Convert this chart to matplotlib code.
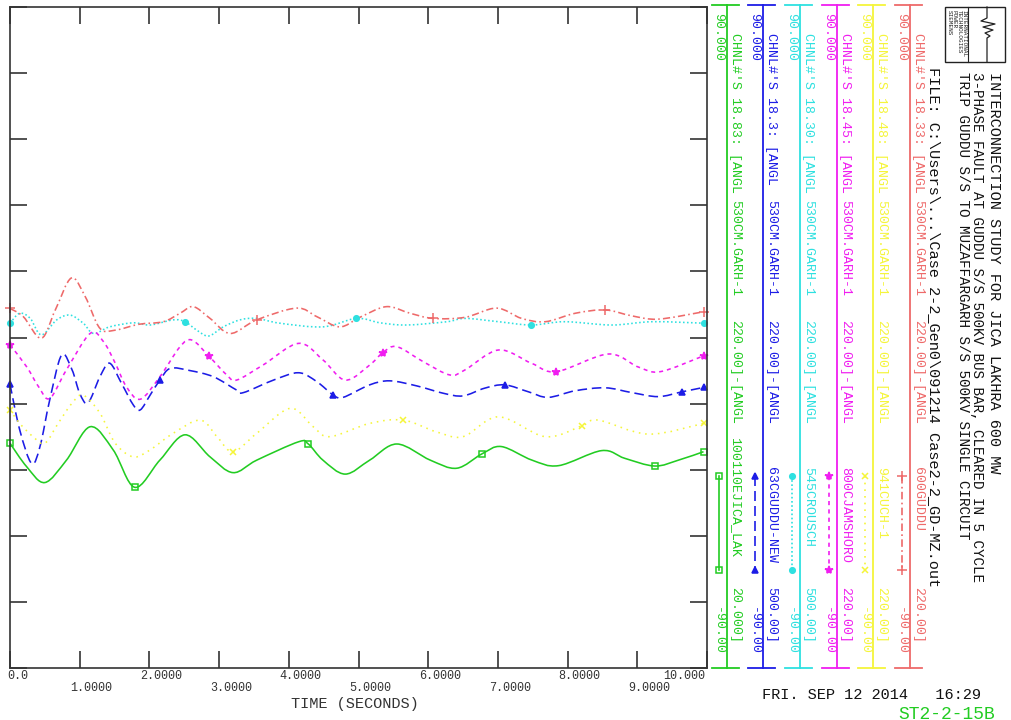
import numpy as np
import matplotlib
matplotlib.use("Agg")
import matplotlib.pyplot as plt
from matplotlib.path import Path
from matplotlib.patches import PathPatch, Rectangle

##########################################
# Channel data   #
# (time in seconds, angle in degrees)    #
##########################################

green_t = [0.00, 0.24, 0.50, 0.81, 1.15, 1.48, 1.79, 2.15, 2.51, 2.87, 3.20, 3.54, 4.14, 4.28, 4.49,
           4.81, 5.16, 5.55, 6.03, 6.41, 6.77, 7.05, 7.49, 7.87, 8.49, 8.82, 9.25, 9.59, 9.95]
green_v = [-28.8, -35.2, -39.5, -33.4, -24.3, -30.6, -40.8, -33.4, -26.5, -32.5, -36.8, -33.4, -28.4, -29.0, -33.4,
           -37.2, -33.4, -29.0, -33.4, -35.6, -31.7, -29.7, -33.4, -34.9, -30.8, -32.9, -35.0, -33.4, -31.1]

blue_t = [0.00, 0.14, 0.31, 0.43, 0.57, 0.74, 0.89, 1.00, 1.12, 1.29, 1.43, 1.60, 1.77, 1.87, 2.01, 2.15,
          2.30, 2.58, 2.92, 3.25, 3.35, 3.78, 4.14, 4.40, 4.64, 4.78, 5.16, 5.45, 5.84, 6.22, 6.50, 6.81,
          7.10, 7.44, 7.72, 8.11, 8.54, 8.92, 9.30, 9.64, 9.95]
blue_v = [-12.7, -25.2, -34.3, -29.7, -17.0, -4.8, -8.8, -15.2, -17.8, -10.7, -7.0, -12.5, -18.4, -19.7, -15.7, -11.6,
          -8.4, -9.0, -10.7, -14.3, -15.0, -11.6, -9.6, -12.0, -15.7, -16.3, -12.9, -11.8, -13.2, -15.2, -15.9, -13.8,
          -12.9, -14.8, -16.3, -14.5, -13.7, -15.0, -16.1, -14.8, -13.6]

cyan_t = [0.00, 0.14, 0.29, 0.45, 0.67, 0.86, 1.05, 1.20, 1.43, 1.77, 2.01, 2.34, 2.51, 2.68, 2.85, 3.06,
          3.30, 3.54, 3.87, 4.49, 4.97, 5.31, 5.69, 6.27, 6.53, 7.01, 7.48, 7.96, 8.63, 9.21, 9.95]
cyan_v = [3.9, 6.6, 5.2, 0.7, 4.8, 6.1, 3.9, 1.1, 2.9, 4.0, 3.4, 4.8, 4.3, 2.0, 0.4, 2.9,
          4.8, 5.2, 3.9, 2.9, 5.2, 4.0, 3.4, 4.3, 5.2, 4.3, 3.4, 4.3, 3.4, 4.3, 3.9]

magenta_t = [0.00, 0.24, 0.41, 0.57, 0.81, 1.15, 1.34, 1.51, 1.67, 1.87, 2.15, 2.44, 2.61, 2.85, 3.11, 3.25,
             3.63, 4.14, 4.49, 4.81, 5.16, 5.35, 5.55, 5.93, 6.31, 6.53, 7.01, 7.48, 7.84, 8.58, 9.01, 9.33, 9.95]
magenta_v = [-2.0, -8.0, -13.4, -16.6, -8.8, 1.1, -1.1, -7.0, -13.4, -16.8, -10.7, -2.5, -0.7, -5.0, -10.2, -11.6,
             -7.5, -1.6, -6.1, -11.6, -7.5, -4.1, -2.5, -6.6, -10.2, -8.8, -3.4, -7.0, -9.3, -4.5, -8.0, -9.3, -5.0]

yellow_t = [0.00, 0.14, 0.33, 0.50, 0.69, 0.89, 1.05, 1.29, 1.51, 1.77, 2.01, 2.34, 2.73, 2.97, 3.20,
            3.54, 4.02, 4.35, 4.59, 5.16, 5.64, 6.12, 6.50, 7.01, 7.68, 8.20, 8.44, 9.16, 9.95]
yellow_v = [-19.7, -23.4, -27.0, -28.8, -23.4, -17.9, -15.7, -20.6, -28.8, -32.5, -30.6, -26.1, -22.5, -27.0, -31.1,
            -26.1, -19.3, -24.3, -27.0, -23.4, -22.5, -25.7, -27.0, -21.6, -27.0, -24.1, -22.5, -26.3, -23.4]

red_t = [0.00, 0.19, 0.45, 0.65, 0.88, 1.08, 1.29, 1.51, 1.85, 2.20, 2.44, 2.63, 2.87, 3.16, 3.54,
         4.11, 4.40, 4.73, 5.02, 5.40, 5.74, 6.07, 6.53, 6.98, 7.34, 7.68, 8.11, 8.54, 8.92, 9.30, 9.95]
red_v = [7.9, 5.7, -0.2, 7.5, 16.2, 11.1, 2.5, 2.0, 3.6, 4.3, 6.6, 8.4, 5.2, 1.1, 4.8,
         8.0, 5.7, 2.9, 5.5, 8.4, 6.6, 5.2, 5.5, 8.0, 5.2, 4.3, 6.6, 7.5, 5.9, 5.0, 7.0]

# times where the plot symbols sit on each curve
green_marks = [0.0, 1.79, 4.28, 6.77, 9.25, 9.95]
blue_marks = [0.0, 2.15, 4.64, 7.10, 9.64, 9.95]
cyan_marks = [0.0, 2.51, 4.97, 7.48, 9.95]
magenta_marks = [0.0, 2.85, 5.35, 7.84, 9.95]
yellow_marks = [0.0, 3.20, 5.64, 8.20, 9.95]
red_marks = [0.0, 3.54, 6.07, 8.54, 9.95]

# legend columns, left (green) to right (red)
chan_nums = ["18.83", "18.3", "18.30", "18.45", "18.48", "18.33"]
bus_names = ["100110EJICA_LAK", "63CGUDDU-NEW", "545CROUSCH", "800CJAMSHORO", "941CUCH-1", "600GUDDU"]
bus_kv = ["20.000]", "500.00]", "500.00]", "220.00]", "220.00]", "220.00]"]

x_ticks = [0, 1, 2, 3, 4, 5, 6, 7, 8, 9, 10]
x_labels = ["0.0", "1.0000", "2.0000", "3.0000", "4.0000", "5.0000",
            "6.0000", "7.0000", "8.0000", "9.0000", "10.000"]

title_lines = ["INTERCONNECTION STUDY FOR JICA LAKHRA 600 MW",
               "3-PHASE FAULT AT GUDDU S/S 500KV BUS BAR, CLEARED IN 5 CYCLE",
               "TRIP GUDDU S/S TO MUZAFFARGARH S/S 500KV SINGLE CIRCUIT",
               r"FILE: C:\Users\...\Case 2-2_Gen0\091214 Case2-2_GD-MZ.out"]

############
# Styling  #
############

plt.rcParams['font.family'] = ['Liberation Mono', 'DejaVu Sans Mono']

GREEN = '#22cc22'
BLUE = '#1c1ce6'
CYAN = '#2ee0e0'
MAGENTA = '#f01ef0'
YELLOW = '#f5f53a'
RED = '#ee6a6a'
AXC = '#333333'

# (color, linestyle, marker, marker size, filled)
styles = [
    (GREEN, '-', 's', 5, False),
    (BLUE, (0, (6, 3)), '^', 5, True),
    (CYAN, (0, (1, 1.5)), 'o', 4, True),
    (MAGENTA, (0, (2.5, 2.5)), '*', 6, True),
    (YELLOW, (0, (1, 3)), 'x', 5, True),
    (RED, (0, (4.5, 2, 1, 2)), '+', 7, True),
]


def smooth_path(t, v):
    # Catmull-Rom through the read points, drawn as cubic Beziers
    n = len(t)
    verts = [(t[0], v[0])]
    codes = [Path.MOVETO]
    for i in range(n - 1):
        t0, v0 = (t[i - 1], v[i - 1]) if i > 0 else (t[i], v[i])
        t3, v3 = (t[i + 2], v[i + 2]) if i + 2 < n else (t[i + 1], v[i + 1])
        c1 = (t[i] + (t[i + 1] - t0) / 6.0, v[i] + (v[i + 1] - v0) / 6.0)
        c2 = (t[i + 1] - (t3 - t[i]) / 6.0, v[i + 1] - (v3 - v[i]) / 6.0)
        verts += [c1, c2, (t[i + 1], v[i + 1])]
        codes += [Path.CURVE4] * 3
    return Path(verts, codes)


W, H = 1012, 720
fig = plt.figure(figsize=(W / 100, H / 100), dpi=100)
fig.patch.set_facecolor('white')

# overlay in pixel units for the legend / title block
ov = fig.add_axes([0, 0, 1, 1])
ov.set_xlim(0, W)
ov.set_ylim(H, 0)
ov.axis('off')

# main plot frame
ax = fig.add_axes([10 / W, 1 - 668 / H, 697 / W, 661 / H])
ax.set_facecolor('none')
ax.set_xlim(0, 10)
ax.set_ylim(-90, 90)
ax.set_xticks(x_ticks)
ax.set_yticks(np.arange(-90, 91, 18))
ax.tick_params(axis='both', direction='in', length=12, width=1.2, color=AXC,
               top=True, right=True, labelbottom=False, labelleft=False)
for s in ax.spines.values():
    s.set_color(AXC)
    s.set_linewidth(1.2)

#################
# Plot curves   #
#################

series = [(green_t, green_v, green_marks), (blue_t, blue_v, blue_marks),
          (cyan_t, cyan_v, cyan_marks), (magenta_t, magenta_v, magenta_marks),
          (yellow_t, yellow_v, yellow_marks), (red_t, red_v, red_marks)]

for (t, v, marks), (col, ls, mk, ms, filled) in zip(series, styles):
    ax.add_patch(PathPatch(smooth_path(t, v), fill=False, ec=col, lw=1.15, ls=ls))
    ta = np.array(t)
    idx = [int(np.argmin(np.abs(ta - m))) for m in marks]
    ax.plot(ta[idx], np.array(v)[idx], linestyle='none', marker=mk, ms=ms,
            color=col, mfc=col if filled else 'none', mew=1.1, clip_on=False)

# staggered time labels
tr = ax.get_xaxis_transform()
for tk, lab in zip(x_ticks, x_labels):
    ypos = -0.0121 if tk % 2 == 0 else -0.0303
    if tk == 0:
        ax.text(-0.04, ypos, lab, transform=tr, ha='left', va='center', fontsize=8.5, color=AXC)
    elif tk == 10:
        ax.text(9.97, ypos, lab, transform=tr, ha='right', va='center', fontsize=8.5, color=AXC)
    else:
        ax.text(tk + 0.17, ypos, lab, transform=tr, ha='center', va='center', fontsize=8.5, color=AXC)
ax.text(4.95, -0.0545, "TIME (SECONDS)", transform=tr, ha='center', va='center', fontsize=11, color=AXC)

#####################
# Channel legends   #
#####################

col_x = [727, 763, 800, 837, 873, 910]
for i, x in enumerate(col_x):
    col, ls, mk, ms, filled = styles[i]
    ov.plot([x, x], [5, 668], color=col, lw=1.3)
    ov.plot([x - 15, x + 12], [5, 5], color=col, lw=1.3)
    ov.plot([x - 15, x + 12], [668, 668], color=col, lw=1.3)

    kw = dict(rotation=-90, ha='center', va='top', color=col, fontsize=9.5)
    ov.text(x - 9, 13, "90.000", **kw)
    ov.text(x - 9, 607, "-90.00", **kw)
    ov.text(x + 8, 33, "CHNL#'S %s: [ANGL" % chan_nums[i], **kw)
    ov.text(x + 8, 200, "530CM.GARH-1", **kw)
    ov.text(x + 8, 320, "220.00]-[ANGL", **kw)
    ov.text(x + 8, 437 if i == 0 else 467, bus_names[i], **kw)
    ov.text(x + 8, 587, bus_kv[i], **kw)

    # sample of the line style
    ov.plot([x - 8, x - 8], [476, 570], color=col, lw=1.2, ls=ls)
    ov.plot([x - 8, x - 8], [476, 570], linestyle='none', marker=mk, ms=ms, color=col,
            mfc=col if filled else 'none', mew=1.1)

##################
# Title block    #
##################

title_x = [994, 977, 963, 934]
title_y = [72, 72, 72, 67]
title_fs = [11, 10.3, 10.3, 11]
for x, y, fs, s in zip(title_x, title_y, title_fs, title_lines):
    ov.text(x, y, s, rotation=-90, ha='center', va='top', fontsize=fs, color='#111111')

# logo box
ov.add_patch(Rectangle((945, 7), 60, 55, fill=False, ec='#222222', lw=1.0))
ov.plot([968, 968], [7, 62], color='#222222', lw=0.8)
for x, s in zip([949, 954, 959, 964], ["SIEMENS", "POWER", "TECHNOLOGIES", "INTERNATIONAL"]):
    ov.text(x, 10, s, rotation=-90, ha='center', va='top', fontsize=4.3, color='#222222')
wave_x = [987, 987, 981, 995, 983, 993, 985, 990, 987, 987]
wave_y = [7, 18, 21, 24, 27, 30, 33, 36, 38, 62]
ov.plot(wave_x, wave_y, color='#222222', lw=0.9)

ov.text(762, 695, "FRI. SEP 12 2014   16:29", ha='left', va='center', fontsize=11, color='#111111')
ov.text(898, 706, "ST2-2-15B", ha='left', va='top', fontsize=13, color=GREEN)

fig.savefig("out.png", dpi=100, facecolor='white')
